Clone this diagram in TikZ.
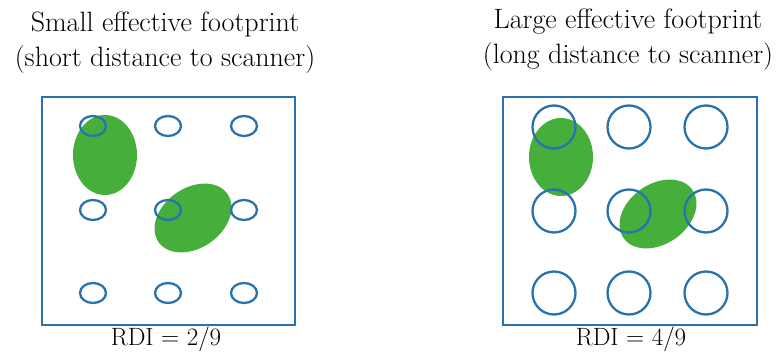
\documentclass[tikz,border=0pt]{standalone}
\usepackage{fontspec}
\definecolor{rblue}{HTML}{2A72AE}
\definecolor{rgreen}{HTML}{46AE3A}
\begin{document}
\begin{tikzpicture}[x=1pt,y=-1pt,
  frame/.style={draw=rblue,line width=2pt},
  spot/.style={draw=rblue,line width=2.3pt},
  blob/.style={fill=rgreen,draw=none},
  title/.style={font=\fontsize{28}{35}\selectfont,align=center,inner sep=0pt},
  lab/.style={font=\fontsize{25}{28}\selectfont,inner sep=0pt}]
\useasboundingbox (0,0) rectangle (778,352);
% ---- left panel
\node[title] (t1) at (165,43) {Small effective footprint\\(short distance to scanner)};
\fill[blob] (105,155) ellipse [x radius=32,y radius=40];
\fill[blob, rotate around={35:(193,218)}] (193,218) ellipse [x radius=42,y radius=30];
\draw[frame] (42,97) rectangle (295,325);
\foreach \x in {93,168,244}
  \foreach \y in {126,210,293}
    \draw[spot] (\x,\y) ellipse [x radius=13,y radius=10];
\node[lab] (r1) at (166,339) {RDI = 2/9};
% ---- right panel
\node[title] (t2) at (628,40) {Large effective footprint\\(long distance to scanner)};
\fill[blob] (561,157) ellipse [x radius=32,y radius=39];
\fill[blob, rotate around={35:(658,214)}] (658,214) ellipse [x radius=42,y radius=30];
\draw[frame] (503,97) rectangle (757,325);
\foreach \x in {554,629,706}
  \foreach \y in {127,211,293}
    \draw[spot] (\x,\y) circle [radius=21.5];
\node[lab] (r2) at (631,339) {RDI = 4/9};
\end{tikzpicture}
\end{document}
